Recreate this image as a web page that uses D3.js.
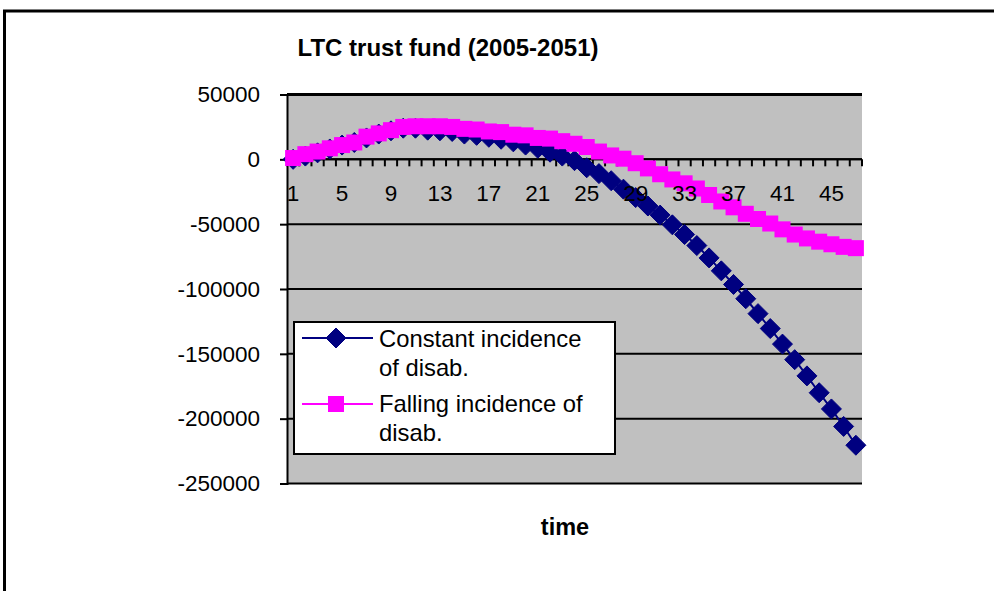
<!DOCTYPE html>
<html>
<head>
<meta charset="utf-8">
<script src="https://cdn.jsdelivr.net/npm/d3@7"></script>
<style>
  body { margin: 0; background: #fff; }
  svg { display: block; font-family: "Liberation Sans", Arial, sans-serif; }
  .tick text { font-size: 22.5px; fill: #000; }
</style>
</head>
<body>
<div id="chart"></div>
<script>
// Years 2005-2051 as periods 1..47
const periods = d3.range(1, 48);
const xTickLabels = [1, 5, 9, 13, 17, 21, 25, 29, 33, 37, 41, 45];
const yTicks = [50000, 0, -50000, -100000, -150000, -200000, -250000];

const constantIncidence = [
  0, 2500, 5000, 8000, 11000, 13000, 16500, 19500, 22000, 24000,
  24000, 22500, 22000, 21500, 19500, 18500, 17000, 15500, 13500, 11000,
  8500, 5500, 2500, -1000, -6500, -11000, -16500, -23000, -29500, -36000,
  -43000, -50500, -58000, -66500, -76000, -86000, -96500, -107500, -119000, -130500,
  -142500, -154500, -167000, -180000, -192500, -206000, -220500
];
const fallingIncidence = [
  1000, 4000, 6000, 8500, 11000, 13000, 17500, 20000, 22500, 25000,
  25500, 25500, 25500, 25000, 23500, 23000, 21500, 21000, 19000, 18500,
  16500, 16000, 14000, 12000, 9500, 6000, 3000, 500, -3000, -7000,
  -11500, -15500, -18500, -22500, -27500, -32500, -37000, -42000, -46000, -49500,
  -54000, -58000, -61000, -63500, -65500, -67500, -68500
];

const width = 994, height = 591;
const svg = d3.select("#chart")
    .append("svg")
    .attr("width", width)
    .attr("height", height);

// Chart area border (runs off the right and bottom edge)
svg.append("rect")
    .attr("x", 4.5).attr("y", 11)
    .attr("width", 1000).attr("height", 600)
    .attr("fill", "#fff")
    .attr("stroke", "#000")
    .attr("stroke-width", 3);

// Scales
const x = d3.scaleBand().domain(periods).range([287, 862]).padding(0);
const y = d3.scaleLinear().domain([-250000, 50000]).range([483.5, 94.5]);
const cx = d => x(d) + x.bandwidth() / 2;

// Plot area
svg.append("rect")
    .attr("x", 287).attr("y", y(50000))
    .attr("width", 862 - 287).attr("height", y(-250000) - y(50000))
    .attr("fill", "#c0c0c0");

// Gridlines
svg.append("g")
    .selectAll("line")
    .data(yTicks)
    .join("line")
    .attr("x1", 287).attr("x2", 862)
    .attr("y1", d => y(d)).attr("y2", d => y(d))
    .attr("stroke", "#000")
    .attr("stroke-width", d => d === 50000 ? 3 : 2);

// Y axis
const yAxis = svg.append("g")
    .attr("transform", "translate(287,0)")
    .call(d3.axisLeft(y).tickValues(yTicks).tickSize(7).tickPadding(20).tickFormat(d => String(d)));
yAxis.select(".domain").attr("stroke", "#000").attr("stroke-width", 2);
yAxis.selectAll(".tick line").attr("stroke", "#000").attr("stroke-width", 2);

// X axis on y = 0, ticks between categories
const xAxisG = svg.append("g").attr("transform", `translate(0,${y(0)})`);
xAxisG.append("line")
    .attr("x1", 287).attr("x2", 862)
    .attr("stroke", "#000").attr("stroke-width", 2);
xAxisG.selectAll(".cat-tick")
    .data(d3.range(periods.length + 1))
    .join("line")
    .attr("class", "cat-tick")
    .attr("x1", i => x.range()[0] + i * x.step())
    .attr("x2", i => x.range()[0] + i * x.step())
    .attr("y1", 0).attr("y2", 7)
    .attr("stroke", "#000").attr("stroke-width", 2);

// Series
const series = [
  { name: "Constant incidence of disab.", values: constantIncidence, color: "#000080", shape: "diamond" },
  { name: "Falling incidence of disab.", values: fallingIncidence, color: "#ff00ff", shape: "square" }
];

const line = d3.line()
    .x((d, i) => cx(periods[i]))
    .y(d => y(d));

function marker(sel, shape, color) {
  if (shape === "diamond") {
    sel.append("path")
        .attr("d", "M0,-10L10,0L0,10L-10,0Z")
        .attr("fill", color)
        .attr("stroke", color)
        .attr("stroke-width", 1)
        .attr("stroke-linejoin", "round");
  } else {
    sel.append("rect")
        .attr("x", -8).attr("y", -8)
        .attr("width", 16).attr("height", 16)
        .attr("fill", color);
  }
}

series.forEach(s => {
  svg.append("path")
      .datum(s.values)
      .attr("d", line)
      .attr("fill", "none")
      .attr("stroke", s.color)
      .attr("stroke-width", 2);
  svg.append("g")
      .selectAll("g")
      .data(s.values)
      .join("g")
      .attr("transform", (d, i) => `translate(${cx(periods[i])},${y(d)})`)
      .each(function() { marker(d3.select(this), s.shape, s.color); });
});

// Category labels sit above the series
const xLabels = svg.append("g")
    .attr("transform", `translate(0,${y(0)})`)
    .call(d3.axisBottom(x).tickValues(xTickLabels).tickSize(0).tickPadding(26));
xLabels.select(".domain").remove();

// Legend
const legend = svg.append("g");
legend.append("rect")
    .attr("x", 294).attr("y", 322)
    .attr("width", 321).attr("height", 132)
    .attr("fill", "#fff")
    .attr("stroke", "#000")
    .attr("stroke-width", 2);

const legendRows = [
  { lines: ["Constant incidence", "of disab."], top: 347, sy: 338 },
  { lines: ["Falling incidence of", "disab."], top: 412, sy: 404 }
];
legendRows.forEach((r, k) => {
  const s = series[k];
  legend.append("line")
      .attr("x1", 302).attr("x2", 373)
      .attr("y1", r.sy).attr("y2", r.sy)
      .attr("stroke", s.color).attr("stroke-width", 2);
  const m = legend.append("g").attr("transform", `translate(336,${r.sy})`);
  marker(m, s.shape, s.color);
  r.lines.forEach((t, j) => {
    legend.append("text")
        .attr("x", 379)
        .attr("y", r.top + j * 29)
        .style("font-size", "23.8px")
        .text(t);
  });
});

// Titles
svg.append("text")
    .attr("x", 448).attr("y", 56)
    .attr("text-anchor", "middle")
    .style("font-size", "24px")
    .style("font-weight", "bold")
    .text("LTC trust fund (2005-2051)");

svg.append("text")
    .attr("x", 565).attr("y", 535)
    .attr("text-anchor", "middle")
    .style("font-size", "23.5px")
    .style("font-weight", "bold")
    .text("time");
</script>
</body>
</html>
